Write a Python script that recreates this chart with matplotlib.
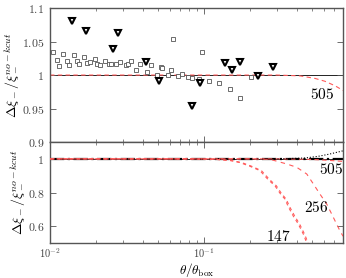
import matplotlib
matplotlib.use("Agg")
import matplotlib.pyplot as plt

plt.rcParams["mathtext.fontset"] = "cm"

# top panel: measured points
sq_x = [0.01046, 0.0111, 0.0114, 0.0122, 0.0129, 0.0133, 0.0143, 0.0150, 0.0154, 0.0167,
        0.0175, 0.0181, 0.0195, 0.0203, 0.0211, 0.0228, 0.0241, 0.0249, 0.0267, 0.0283,
        0.0310, 0.0320, 0.0336, 0.0363, 0.0384, 0.0426, 0.0454, 0.0497, 0.0525, 0.0536,
        0.0580, 0.0607, 0.0625, 0.0674, 0.0715, 0.0793, 0.0837, 0.0930, 0.0975, 0.1083,
        0.126, 0.147, 0.172, 0.2008]
sq_y = [1.0346, 1.0227, 1.0139, 1.0316, 1.0207, 1.0148, 1.0296, 1.0213, 1.0168, 1.0272,
        1.0173, 1.0192, 1.0236, 1.0162, 1.0154, 1.0217, 1.0158, 1.0158, 1.0158, 1.0198,
        1.0143, 1.0168, 1.0207, 1.0080, 1.0158, 1.0050, 1.0154, 1.0006, 1.0118, 1.0099,
        1.0006, 1.0070, 1.0540, 0.9985, 1.0015, 0.9976, 0.9956, 0.9947, 1.0346, 0.9911,
        0.9877, 0.9789, 0.9656, 0.9970]
tri_x = [0.0140, 0.0171, 0.0255, 0.0278, 0.0418, 0.0513, 0.084, 0.094, 0.137, 0.153,
         0.171, 0.224, 0.281]
tri_y = [1.080, 1.0656, 1.039, 1.063, 1.019, 0.9917, 0.954, 0.9888, 1.018, 1.0074,
         1.0198, 0.9985, 1.0114]

top505_x = [0.01, 0.3, 0.42, 0.526, 0.611, 0.71, 0.8]
top505_y = [1.0, 1.0, 0.9988, 0.995, 0.9907, 0.984, 0.977]

# bottom panel curves
c147a_x = [0.01, 0.08, 0.12, 0.148, 0.171, 0.199, 0.231, 0.262, 0.289, 0.312, 0.336,
           0.353, 0.380, 0.410, 0.442, 0.465]
c147a_y = [1.0, 1.0, 0.997, 0.99, 0.978, 0.956, 0.93, 0.875, 0.84, 0.795, 0.76,
           0.715, 0.66, 0.612, 0.552, 0.5]
c147b_x = [0.01, 0.08, 0.12, 0.152, 0.176, 0.204, 0.236, 0.268, 0.295, 0.318, 0.342,
           0.360, 0.388, 0.418, 0.450, 0.474]
c147b_y = [1.0, 1.0, 0.997, 0.99, 0.978, 0.956, 0.93, 0.875, 0.84, 0.795, 0.76,
           0.715, 0.66, 0.612, 0.552, 0.5]
c256_x = [0.01, 0.2, 0.269, 0.344, 0.40, 0.465, 0.513, 0.566, 0.627, 0.675, 0.727,
          0.764, 0.8]
c256_y = [1.0, 1.0, 0.997, 0.97, 0.95, 0.91, 0.851, 0.791, 0.731, 0.672, 0.612,
          0.572, 0.54]
c505_x = [0.01, 0.3, 0.45, 0.55, 0.65, 0.8]
c505_y = [1.0, 1.0, 0.998, 0.995, 0.991, 0.985]
dot_x = [0.3, 0.45, 0.55, 0.65, 0.8]
dot_y = [1.0, 1.005, 1.015, 1.028, 1.048]

fig = plt.figure(figsize=(3.46, 2.78), dpi=100)
ax1 = fig.add_axes([0.1445, 0.489, 0.847, 0.482])
ax2 = fig.add_axes([0.1445, 0.126, 0.847, 0.363])

red = "#ff5a5a"
gray = "#555555"

ax1.axhline(1.0, color="k", lw=0.6, zorder=1)
ax1.plot(top505_x, top505_y, color=red, lw=0.8, ls=(0, (4, 3)), zorder=2)
ax1.plot(sq_x, sq_y, ls="none", marker="s", ms=3, mfc="white", mec=gray, mew=0.6, zorder=3)
ax1.plot(tri_x, tri_y, ls="none", marker="v", ms=4.2, mfc="white", mec="k", mew=1.5, zorder=4)
ax1.text(0.587, 0.9715, r"$505$", fontsize=11, ha="center", va="center")
ax1.set_ylim(0.9, 1.1)
ax1.set_yticks([0.9, 0.95, 1.0, 1.05, 1.1])
ax1.set_yticklabels([r"$\mathtt{0.9}$", r"$\mathtt{0.95}$", r"$\mathtt{1}$",
                     r"$\mathtt{1.05}$", r"$\mathtt{1.1}$"])

ax2.axhline(1.0, color="k", lw=0.6, zorder=1)
ax2.plot([0.01, 0.8], [1.0, 1.0], color="k", lw=1.6, ls="-.", zorder=2)
ax2.plot(c505_x, c505_y, color=red, lw=0.8, ls=(0, (4, 3)), zorder=3)
ax2.plot(dot_x, dot_y, color="k", lw=0.8, ls=":", zorder=3)
ax2.plot(c147a_x, c147a_y, color=red, lw=0.8, ls=(0, (3, 3)), zorder=3)
ax2.plot(c147b_x, c147b_y, color=red, lw=0.8, ls=(0, (3, 3)), zorder=3)
ax2.plot(c256_x, c256_y, color=red, lw=0.8, ls=(0, (4, 4)), zorder=3)
ax2.text(0.665, 0.937, r"$505$", fontsize=11, ha="center", va="center")
ax2.text(0.532, 0.713, r"$256$", fontsize=11, ha="center", va="center")
ax2.text(0.306, 0.540, r"$147$", fontsize=11, ha="center", va="center")
ax2.set_ylim(0.5, 1.1)
ax2.set_yticks([0.6, 0.8, 1.0])
ax2.set_yticklabels([r"$\mathtt{0.6}$", r"$\mathtt{0.8}$", r"$\mathtt{1}$"])

for ax in (ax1, ax2):
    ax.set_xscale("log")
    ax.set_xlim(0.01, 0.8)
    ax.tick_params(which="both", direction="in", top=True, right=True,
                   colors=gray, labelcolor="#444444", labelsize=8.5)
    ax.tick_params(which="major", length=4, width=0.6, pad=4)
    ax.tick_params(which="minor", length=2, width=0.5)
    for s in ax.spines.values():
        s.set_color(gray)
        s.set_linewidth(1.0)
    ax.set_ylabel(r"$\Delta\xi_-/\xi_-^{no-kcut}$", fontsize=10, labelpad=1)

ax1.set_xticks([0.01, 0.1])
ax1.set_xticklabels([])
ax1.tick_params(which="minor", labelbottom=False)
ax2.set_xticks([0.01, 0.1])
ax2.set_xticklabels([r"$\mathtt{10^{-2}}$", r"$\mathtt{10^{-1}}$"])
ax2.tick_params(axis="x", pad=2.5, labelsize=7.5)
ax2.set_xlabel(r"$\theta/\theta_{\rm box}$", fontsize=9.5)
ax2.xaxis.set_label_coords(0.5, -0.18)

fig.savefig("out.png", dpi=100)
